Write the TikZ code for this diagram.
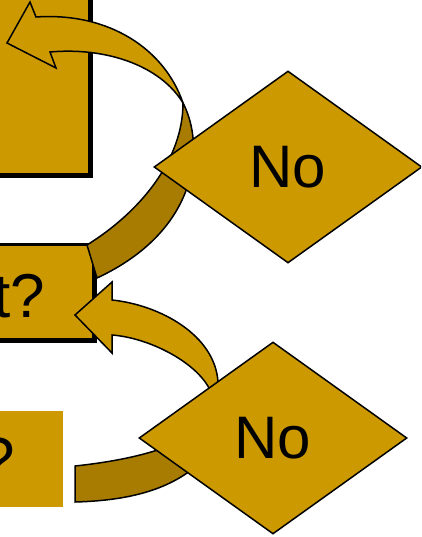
\documentclass[tikz,border=0pt]{standalone}
\usepackage{fontspec}
\setmainfont{Liberation Sans}
\usetikzlibrary{shapes.geometric}
\definecolor{gold}{RGB}{204,153,0}
\definecolor{darkgold}{RGB}{168,124,0}
\begin{document}
\begin{tikzpicture}[x=1pt,y=-1pt,
  band/.style={fill=gold,draw=black,line width=1.5pt,line join=miter},
  back/.style={fill=darkgold,draw=black,line width=1.5pt,line join=miter},
  dec/.style={diamond,aspect=1.4,fill=gold,draw=black,line width=1.5pt,
    minimum width=268pt,minimum height=192pt,inner sep=0pt,
    font=\fontsize{60}{72}\selectfont},
  boxshadow/.style={fill=black},
  boxmain/.style={fill=gold,draw=black,line width=3pt},
  lbl/.style={font=\fontsize{62}{74}\selectfont,inner sep=0pt}]
\useasboundingbox (0,0) rectangle (421,537);
\clip (0,0) rectangle (421,537);

% boxes
\fill[boxshadow] (-18,-18) rectangle (93,178);
\draw[boxmain] (-20,-20) rectangle (89.5,174.5);
\fill[boxshadow] (-18,247) rectangle (97,343);
\draw[boxmain] (-20,244.5) rectangle (93.5,339.5);
\fill[gold] (-20,411) rectangle (63,507);
\node[lbl,anchor=base east] (t2) at (45,317) {t?};
\node[lbl,anchor=base east,font=\fontsize{64}{76}\selectfont] (t3) at (15,482) {?};

% top curved arrow
\coordinate (x1) at (183,103);
\draw[back] (x1) .. controls (183,160) and (140,212) .. (87,245) -- (97,278)
  .. controls (200,230) and (205,145) .. (x1) -- cycle;
\draw[band] (x1) .. controls (165,50) and (110,12) .. (36,17) -- (30,2) -- (7,43)
  -- (56,68) -- (50,52) .. controls (105,47) and (160,65) .. (x1) -- cycle;

% bottom curved arrow
\coordinate (x2) at (216,412);
\draw[back] (x2) .. controls (200,440) and (150,458) .. (75,466) -- (75,502)
  .. controls (150,500) and (200,480) .. (228,425) -- cycle;
\draw[band] (x2) -- (218,382) .. controls (215,335) and (160,305) .. (112,300)
  -- (112,282) -- (75,315) -- (112,353) -- (112,335)
  .. controls (150,338) and (195,362) .. (209,388) -- cycle;

% decisions
\node[dec] (d1) at (288,167) {No};
\node[dec] (d2) at (273,438) {No};
\end{tikzpicture}
\end{document}
